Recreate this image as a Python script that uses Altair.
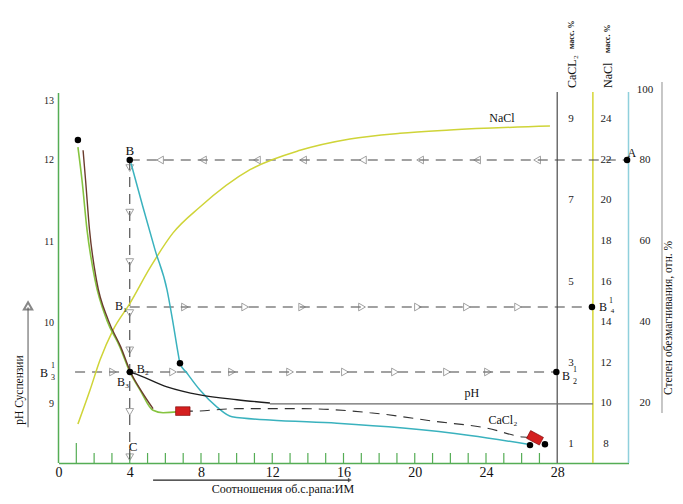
import altair as alt
import pandas as pd

FONT = "Liberation Serif"

# ---------------- curves: x = ratio (об.с.рапа:ИМ), y = pH ----------------
green_x = [1.09, 1.32, 1.60, 2.05, 2.72, 3.45, 4.01, 4.58, 5.31, 5.87, 6.65, 6.98]
green_y = [12.16, 11.75, 11.14, 10.52, 10.02, 9.69, 9.38, 9.16, 8.91, 8.88, 8.89, 8.90]
brown_x = [1.38, 1.52, 1.74, 2.13, 2.80, 3.50, 4.05, 4.62, 5.31]
brown_y = [12.12, 11.75, 11.14, 10.52, 10.02, 9.69, 9.38, 9.16, 8.93]
cyan_x = [4.07, 4.74, 5.42, 6.09, 6.43, 6.71, 6.82, 7.21, 7.94, 8.90, 9.74, 11.87, 15.63, 19.34, 23.10, 26.36]
cyan_y = [11.96, 11.42, 10.89, 10.40, 9.99, 9.62, 9.49, 9.37, 9.16, 8.95, 8.83, 8.79, 8.75, 8.69, 8.60, 8.49]
ph_x = [4.01, 4.18, 6.09, 7.94, 10.02, 11.87]
ph_y = [9.38, 9.37, 9.20, 9.10, 9.04, 9.00]
nacl_x = [1.09, 1.77, 2.33, 3.06, 4.01, 5.14, 6.43, 7.94, 10.75, 13.56, 16.36, 19.17, 21.97, 27.59]
nacl_y = [8.74, 9.16, 9.53, 9.90, 10.23, 10.67, 11.10, 11.42, 11.88, 12.12, 12.26, 12.33, 12.37, 12.42]
cacl_x = [6.98, 7.55, 10.02, 13.73, 17.49, 21.25, 24.06, 26.08, 26.75]
cacl_y = [8.90, 8.90, 8.93, 8.93, 8.88, 8.77, 8.69, 8.58, 8.57]

# ---------------- construction (dashed) lines ----------------
dash_x = [4.0, 4.0, 0.93, 4.0]
dash_x2 = [31.92, 29.95, 27.95, 4.0]
dash_y = [12.0, 10.185, 9.383, 12.0]
dash_y2 = [12.0, 10.185, 9.383, 8.259]

# arrow markers on the dashed lines
tri_left_x = [5.70, 8.11, 11.14, 13.73, 17.09, 20.30, 23.50, 26.87]
tri_b1_x = [7.10, 10.48, 13.68, 17.04, 20.18, 22.93, 25.80]
tri_b2_x = [3.06, 6.43, 9.74, 13.00, 16.08, 18.89, 21.81, 24.11]
tri_down_y = [11.90, 11.35, 10.74, 10.11, 9.65, 8.89, 8.33]

# points
dot_x = [4.0, 1.09, 4.01, 6.82, 27.95, 29.95, 31.92, 26.47, 27.31]
dot_y = [12.0, 12.247, 9.383, 9.49, 9.383, 10.185, 12.0, 8.48, 8.49]
box_x = [6.98, 26.75]
box_y = [8.90, 8.57]
box_angle = [0, 28]

# frame lines: left axis, CaCl2 / NaCl / degree axes, side rule
frame_x = [0.0, 28.0, 30.0, 32.0, 33.88]
frame_y = [8.259, 8.259, 8.259, 8.259, 8.877]
frame_y2 = [12.827, 12.84, 12.84, 12.84, 12.963]
frame_color = ["#55ad55", "#6f6f6f", "#d6d635", "#8fd0dc", "#b5b5b5"]

tick_x = list(range(1, 28))

# secondary scales
cacl_ticks = [1, 3, 5, 7, 9]
nacl_ticks = [8, 10, 12, 14, 16, 18, 20, 22, 24]
deg_ticks = [20, 40, 60, 80, 100]

# labels
lab_text = ["B", "A", "B₁", "B₂", "B₃", "C", "NaCl", "pH", "CaCl₂",
            "B", "1", "3", "B", "1", "2", "B", "1", "4"]
lab_x = [4.01, 32.19, 3.51, 4.74, 3.62, 4.18, 24.90, 23.21, 24.95,
         -0.81, -0.31, -0.31, 28.49, 29.00, 29.00, 30.57, 31.02, 31.10]
lab_y = [12.115, 12.09, 10.20, 9.42, 9.26, 8.457, 12.52, 9.12, 8.79,
         9.37, 9.457, 9.31, 9.333, 9.41, 9.26, 10.19, 10.265, 10.14]
lab_size = [13, 12, 12, 12, 12, 13, 12, 12, 12,
            12, 8, 8, 12, 8, 8, 12, 8, 7]

# ---------------- scales / helpers ----------------
xs = alt.Scale(domain=[0, 32], nice=False, zero=False)
ys = alt.Scale(domain=[8.2593, 13.6296], nice=False, zero=False)
xaxis = alt.Axis(values=[0, 4, 8, 12, 16, 20, 24, 28], title=None, grid=False,
                 ticks=False, tickSize=0, domainColor="#55ad55", domainWidth=1.5,
                 labelFont=FONT, labelFontSize=14, labelColor="#111",
                 labelPadding=2, labelFlush=False)
yaxis = alt.Axis(values=[9, 10, 11, 12, 12.74], title=None, grid=False,
                 ticks=False, tickSize=0, domain=False,
                 labelExpr="datum.value > 12.5 ? '13' : datum.label",
                 labelFont=FONT, labelFontSize=10, labelColor="#222",
                 labelPadding=5)


def X(f="x"):
    return alt.X(f + ":Q", scale=xs, axis=xaxis)


def Y(f="y"):
    return alt.Y(f + ":Q", scale=ys, axis=yaxis)


def line(xv, yv, color, width=1.4, dash=None):
    df = pd.DataFrame({"x": xv, "y": yv, "o": range(len(xv))})
    kw = dict(color=color, strokeWidth=width, interpolate="monotone")
    if dash:
        kw["strokeDash"] = dash
    return alt.Chart(df).mark_line(**kw).encode(x=X(), y=Y(), order="o:Q")


layers = []

# frame rules
frame_df = pd.DataFrame({"x": frame_x, "y": frame_y, "y2": frame_y2, "c": frame_color})
layers.append(alt.Chart(frame_df).mark_rule(strokeWidth=1.5).encode(
    x=X(), y=Y(), y2="y2:Q", color=alt.Color("c:N", scale=None)))

# pH horizontal level
layers.append(alt.Chart(pd.DataFrame({"x": [11.87], "x2": [30.0], "y": [8.99]})).mark_rule(
    color="#6a6a6a", strokeWidth=1.2).encode(x=X(), x2="x2:Q", y=Y()))

# green bottom ticks
tick_df = pd.DataFrame({"x": tick_x, "y": [8.259] * len(tick_x),
                        "y2": [8.506 if t == 1 else 8.383 for t in tick_x]})
layers.append(alt.Chart(tick_df).mark_rule(color="#55ad55", strokeWidth=1.2).encode(
    x=X(), y=Y(), y2="y2:Q"))

# dashed construction lines
dash_df = pd.DataFrame({"x": dash_x, "x2": dash_x2, "y": dash_y, "y2": dash_y2})
layers.append(alt.Chart(dash_df).mark_rule(color="#444", strokeWidth=1.1, strokeDash=[10, 7]).encode(
    x=X(), x2="x2:Q", y=Y(), y2="y2:Q"))

# triangles
tri_rows = ([(v, 12.0, "triangle-left") for v in tri_left_x]
            + [(v, 10.185, "triangle-right") for v in tri_b1_x]
            + [(v, 9.383, "triangle-right") for v in tri_b2_x]
            + [(4.0, v, "triangle-down") for v in tri_down_y])
tri_df = pd.DataFrame(tri_rows, columns=["x", "y", "s"])
layers.append(alt.Chart(tri_df).mark_point(filled=False, color="#7a7a7a", size=60, strokeWidth=1).encode(
    x=X(), y=Y(), shape=alt.Shape("s:N", scale=None)))

# curves
layers.append(line(nacl_x, nacl_y, "#cfd438", 1.5))
layers.append(line(cyan_x, cyan_y, "#3ab2be", 1.5))
layers.append(line(green_x, green_y, "#86c440", 1.6))
layers.append(line(brown_x, brown_y, "#6a3b2c", 1.4))
layers.append(line(ph_x, ph_y, "#1e1e1e", 1.3))
layers.append(line(cacl_x, cacl_y, "#333", 1.1, [10, 7]))

# red boxes
box_df = pd.DataFrame({"x": box_x, "y": box_y, "a": box_angle})
layers.append(alt.Chart(box_df).mark_point(
    shape="M-1,-0.6L1,-0.6L1,0.6L-1,0.6Z", filled=True, fill="#d41f1f",
    stroke="#7a0000", strokeWidth=0.6, size=210, opacity=1).encode(
    x=X(), y=Y(), angle=alt.Angle("a:Q", scale=None)))

# dots
dot_df = pd.DataFrame({"x": dot_x, "y": dot_y})
layers.append(alt.Chart(dot_df).mark_circle(color="black", size=42, opacity=1).encode(x=X(), y=Y()))

# secondary scale labels
sec_df = pd.DataFrame(
    [(28.77, (v + 16) / 2, str(v)) for v in cacl_ticks]
    + [(30.74, 6.5 + v / 4, str(v)) for v in nacl_ticks]
    + [(32.93, min(8 + v / 20, 12.86), str(v)) for v in deg_ticks],
    columns=["x", "y", "t"])
layers.append(alt.Chart(sec_df).mark_text(font=FONT, fontSize=11, color="#222").encode(
    x=X(), y=Y(), text="t:N"))

# point labels
lab_df = pd.DataFrame({"x": lab_x, "y": lab_y, "t": lab_text, "s": lab_size})
layers.append(alt.Chart(lab_df).mark_text(font=FONT, color="#111").encode(
    x=X(), y=Y(), text="t:N", size=alt.Size("s:Q", scale=None)))

# rotated axis titles on the right
rot_df = pd.DataFrame({
    "x": [28.83, 30.85],
    "y": [12.889, 12.889],
    "t": ["CaCL₂", "NaCl"]})
layers.append(alt.Chart(rot_df).mark_text(font=FONT, fontSize=12, angle=270, align="left",
                                          baseline="middle", color="#111").encode(
    x=X(), y=Y(), text="t:N"))
rot2_df = pd.DataFrame({"x": [28.83, 30.85], "y": [13.37, 13.32], "t": ["масс. %", "масс. %"]})
layers.append(alt.Chart(rot2_df).mark_text(font=FONT, fontSize=8, angle=270, align="left",
                                           baseline="middle", color="#111", fontWeight="bold").encode(
    x=X(), y=Y(), text="t:N"))

title_df = pd.DataFrame({"x": [34.29, -2.17], "y": [10.05, 9.16],
                         "t": ["Степен обезмагнивания, отн. %", "pH Суспензии"]})
layers.append(alt.Chart(title_df).mark_text(font=FONT, fontSize=11.5, angle=270, align="center",
                                            baseline="middle", color="#111").encode(
    x=X(), y=Y(), text="t:N"))

# x-axis title and arrows
xt_df = pd.DataFrame({"x": [12.60], "y": [7.895], "t": ["Соотношения об.с.рапа:ИМ"]})
layers.append(alt.Chart(xt_df).mark_text(font=FONT, fontSize=12, color="#111",
                                         baseline="alphabetic").encode(
    x=X(), y=Y(), text="t:N"))
layers.append(alt.Chart(pd.DataFrame({"x": [5.31], "x2": [16.30], "y": [8.049]})).mark_rule(
    color="#222", strokeWidth=1.2).encode(x=X(), x2="x2:Q", y=Y()))
layers.append(alt.Chart(pd.DataFrame({"x": [-1.71], "y": [8.70], "y2": [10.18]})).mark_rule(
    color="#555", strokeWidth=1).encode(x=X(), y=Y(), y2="y2:Q"))
arrow_df = pd.DataFrame({"x": [16.36, -1.71], "y": [8.049, 10.20],
                         "s": ["triangle-right", "triangle-up"]})
layers.append(alt.Chart(arrow_df.iloc[[0]]).mark_point(filled=True, color="#222", size=22).encode(
    x=X(), y=Y(), shape=alt.Shape("s:N", scale=None)))
layers.append(alt.Chart(arrow_df.iloc[[1]]).mark_point(filled=False, color="#555", size=70).encode(
    x=X(), y=Y(), shape=alt.Shape("s:N", scale=None)))

chart = alt.layer(*layers).properties(
    width=570, height=435,
    autosize=alt.AutoSizeParams(type="none"),
    padding={"left": 50.5, "top": 20, "right": 46.5, "bottom": 33},
    background="white",
).configure_view(stroke=None)

chart.save("out.html", embed_options={"renderer": "svg", "actions": False})
